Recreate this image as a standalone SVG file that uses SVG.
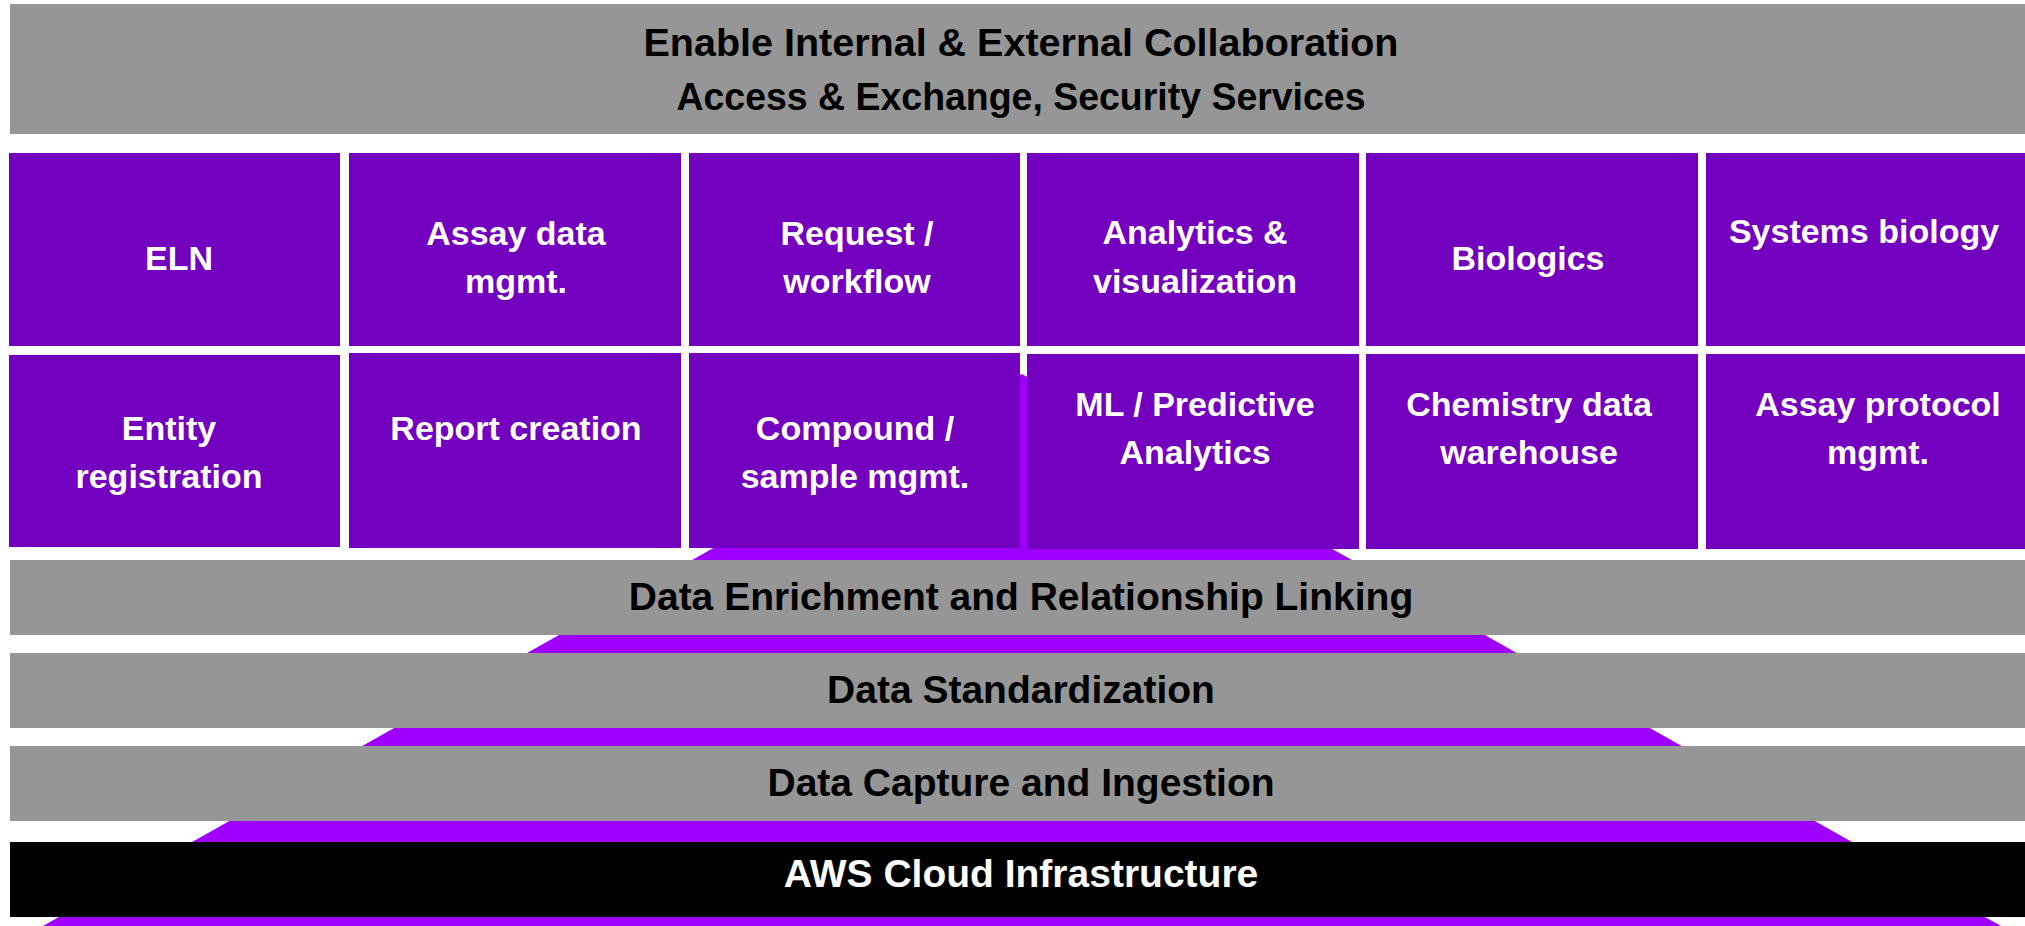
<svg xmlns="http://www.w3.org/2000/svg" width="2025" height="926" viewBox="0 0 2025 926">
<style>
.bar{fill:#969696}
.box{fill:#7400BF}
.pyr{fill:#9D00FF}
.t{font-family:"Liberation Sans",Arial,sans-serif;font-weight:bold;text-anchor:middle}
.bt{font-size:39px;fill:#000}
.wt{font-size:34px;fill:#fff}
</style>
<rect width="2025" height="926" fill="#fff"/>
<polygon id="pyramid" class="pyr" points="1022,374 2001,926 43,926"/>

<g id="top-bar">
<rect class="bar" x="10" y="4" width="2015" height="130"/>
<text class="t bt" style="font-size:39.5px" x="1021" y="56">Enable Internal &amp; External Collaboration</text>
<text class="t bt" style="font-size:39.5px" x="1021" y="110" textLength="689" lengthAdjust="spacingAndGlyphs">Access &amp; Exchange, Security Services</text>
</g>

<g id="eln"><rect class="box" x="9" y="153" width="331" height="193"/><text class="t wt" x="179" y="270">ELN</text></g>
<g id="assay-data"><rect class="box" x="349" y="153" width="332" height="193"/><text class="t wt" x="516" y="245">Assay data</text><text class="t wt" x="516" y="293">mgmt.</text></g>
<g id="request"><rect class="box" x="689" y="153" width="331" height="193"/><text class="t wt" x="857" y="245">Request /</text><text class="t wt" x="857" y="293">workflow</text></g>
<g id="analytics"><rect class="box" x="1027" y="153" width="332" height="193"/><text class="t wt" x="1195" y="244">Analytics &amp;</text><text class="t wt" x="1195" y="293">visualization</text></g>
<g id="biologics"><rect class="box" x="1366" y="153" width="332" height="193"/><text class="t wt" x="1528" y="270">Biologics</text></g>
<g id="systems-biology"><rect class="box" x="1706" y="153" width="319" height="193"/><text class="t wt" x="1864" y="243">Systems biology</text></g>

<g id="entity"><rect class="box" x="9" y="355" width="331" height="192"/><text class="t wt" x="169" y="440">Entity</text><text class="t wt" x="169" y="488">registration</text></g>
<g id="report"><rect class="box" x="349" y="353" width="332" height="195"/><text class="t wt" x="516" y="440">Report creation</text></g>
<g id="compound"><rect class="box" x="689" y="353" width="331" height="195"/><text class="t wt" x="855" y="440">Compound /</text><text class="t wt" x="855" y="488">sample mgmt.</text></g>
<g id="ml"><rect class="box" x="1027" y="354" width="332" height="195"/><text class="t wt" x="1195" y="416">ML / Predictive</text><text class="t wt" x="1195" y="464">Analytics</text></g>
<g id="chemistry"><rect class="box" x="1366" y="354" width="332" height="195"/><text class="t wt" x="1529" y="416">Chemistry data</text><text class="t wt" x="1529" y="464">warehouse</text></g>
<g id="assay-protocol"><rect class="box" x="1706" y="354" width="319" height="195"/><text class="t wt" x="1878" y="416">Assay protocol</text><text class="t wt" x="1878" y="464">mgmt.</text></g>

<g id="enrichment"><rect class="bar" x="10" y="560" width="2015" height="75"/><text class="t bt" x="1021" y="610">Data Enrichment and Relationship Linking</text></g>
<g id="standardization"><rect class="bar" x="10" y="653" width="2015" height="75"/><text class="t bt" x="1021" y="703">Data Standardization</text></g>
<g id="capture"><rect class="bar" x="10" y="746" width="2015" height="75"/><text class="t bt" x="1021" y="796">Data Capture and Ingestion</text></g>
<g id="aws"><rect x="10" y="842" width="2015" height="75" fill="#000"/><text class="t bt" style="fill:#fff" x="1021" y="887">AWS Cloud Infrastructure</text></g>
</svg>
